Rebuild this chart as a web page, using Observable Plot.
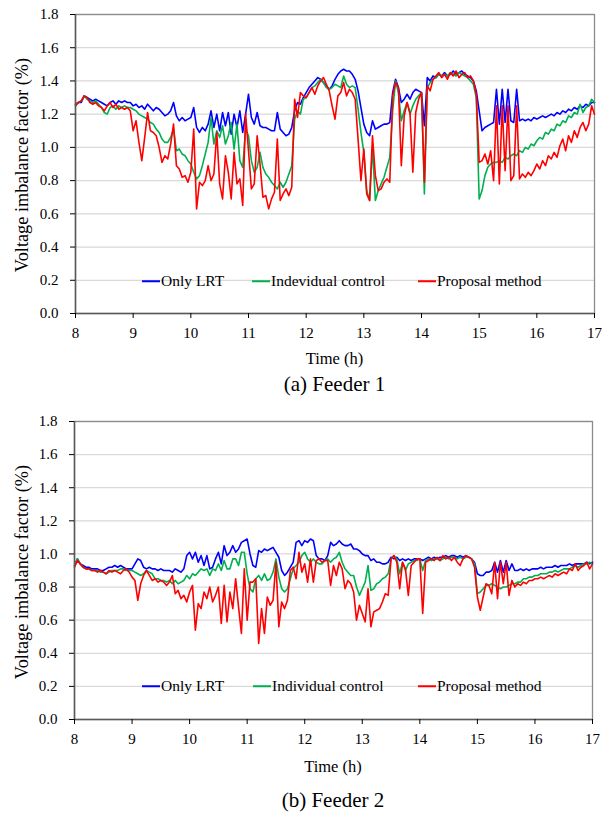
<!DOCTYPE html>
<html><head><meta charset="utf-8">
<script src="https://cdn.jsdelivr.net/npm/d3@7"></script>
<script src="https://cdn.jsdelivr.net/npm/@observablehq/plot@0.6"></script>
<style>
body{margin:0;background:#fff;}
#page{position:relative;width:613px;height:818px;overflow:hidden;font-family:"Liberation Serif","Times New Roman",serif;color:#000;background:#fff;}
.abs{position:absolute;white-space:nowrap;line-height:1;}
.c{transform:translate(-50%,-50%);}
.ylab{transform:translate(-50%,-50%) rotate(-90deg);}
.leg{position:absolute;display:flex;align-items:center;transform:translateY(-50%);font-size:15.5px;white-space:nowrap;line-height:1;}
.leg .sw{display:inline-block;width:18px;height:2px;margin-right:1px;}
.svgwrap{position:absolute;left:0;}
</style></head><body><div id="page"></div>
<script>
// ---------- data ----------
const hourTicks = [8, 9, 10, 11, 12, 13, 14, 15, 16, 17];
const yTicks = [0, 0.2, 0.4, 0.6, 0.8, 1.0, 1.2, 1.4, 1.6, 1.8];
const startHour = 8, stepHour = 0.05; // sampling of the curves (8:00 .. 17:00)
const seriesNamesA = ["Only LRT", "Indevidual control", "Proposal method"];
const seriesNamesB = ["Only LRT", "Individual control", "Proposal method"];
const seriesColors = ["#0000ff", "#00b050", "#ff0000"];
const xTitle = "Time (h)";
const yTitle = "Voltage imbalance factor (%)";
const captionA = "(a) Feeder 1";
const captionB = "(b) Feeder 2";

const feeder1LRT = [
1.26,1.27,1.27,1.31,1.30,1.29,1.28,1.29,1.28,1.27,1.26,1.25,1.27,1.28,1.26,1.28,1.27,1.28,1.27,1.27,
1.25,1.26,1.24,1.25,1.23,1.26,1.24,1.22,1.24,1.23,1.21,1.19,1.20,1.22,1.27,1.19,1.16,1.18,1.16,1.17,
1.18,1.24,1.12,1.09,1.12,1.10,1.14,1.22,1.12,1.20,1.10,1.21,1.13,1.21,1.08,1.20,1.12,1.22,1.09,1.20,
1.32,1.18,1.14,1.21,1.13,1.12,1.12,1.11,1.10,1.10,1.21,1.11,1.09,1.07,1.08,1.12,1.22,1.27,1.26,1.30,
1.33,1.36,1.38,1.40,1.42,1.41,1.39,1.37,1.35,1.37,1.41,1.44,1.46,1.47,1.46,1.46,1.44,1.41,1.34,1.24,
1.14,1.09,1.07,1.16,1.11,1.12,1.13,1.14,1.14,1.15,1.33,1.41,1.36,1.27,1.29,1.32,1.29,1.33,1.35,1.34,
1.33,1.13,1.42,1.40,1.43,1.42,1.44,1.43,1.45,1.43,1.44,1.46,1.44,1.45,1.46,1.44,1.43,1.42,1.40,1.34,
1.22,1.10,1.12,1.13,1.14,1.15,1.35,1.14,1.35,1.15,1.35,1.16,1.15,1.35,1.16,1.17,1.16,1.17,1.16,1.18,
1.17,1.18,1.19,1.18,1.19,1.20,1.19,1.21,1.20,1.22,1.21,1.23,1.22,1.24,1.23,1.25,1.24,1.26,1.25,1.27,
1.27];
const feeder1Individual = [
1.26,1.27,1.28,1.31,1.29,1.28,1.27,1.28,1.26,1.24,1.21,1.20,1.24,1.25,1.23,1.25,1.24,1.25,1.24,1.24,
1.23,1.22,1.20,1.19,1.18,1.17,1.15,1.14,1.11,1.09,1.05,1.03,1.03,1.06,1.11,0.98,0.99,0.96,0.95,0.92,
0.90,0.85,0.81,0.83,0.89,0.96,1.03,1.18,1.02,1.10,1.06,1.13,1.02,1.07,1.15,0.99,1.14,0.92,0.88,1.11,
1.07,0.92,0.85,0.88,0.97,0.88,0.84,0.82,0.79,0.77,0.75,0.79,0.76,0.79,0.84,0.89,1.17,1.22,1.20,1.29,
1.30,1.33,1.36,1.37,1.39,1.41,1.39,1.36,1.35,1.36,1.38,1.37,1.36,1.43,1.38,1.36,1.37,1.36,1.23,1.09,
0.97,0.74,0.68,1.00,0.68,0.74,0.78,0.82,0.88,0.94,1.22,1.40,1.33,1.16,1.22,1.27,1.20,1.25,1.29,1.31,
1.33,0.72,1.36,1.39,1.41,1.42,1.44,1.43,1.44,1.43,1.45,1.44,1.43,1.45,1.44,1.43,1.42,1.40,1.38,1.30,
0.69,0.74,0.83,0.88,0.90,0.91,0.91,0.92,0.91,0.94,0.93,0.95,0.96,0.95,0.98,0.97,1.00,0.99,1.02,1.01,
1.04,1.06,1.05,1.09,1.08,1.11,1.10,1.14,1.13,1.16,1.15,1.19,1.18,1.21,1.20,1.26,1.21,1.24,1.25,1.29,
1.27];
const feeder1Proposal = [
1.25,1.27,1.28,1.31,1.30,1.27,1.26,1.27,1.25,1.24,1.22,1.25,1.27,1.24,1.26,1.23,1.24,1.23,1.24,1.22,
1.10,1.16,1.03,0.92,1.06,1.21,1.10,1.09,1.07,1.00,0.91,0.95,0.93,1.02,1.14,0.89,0.87,0.82,0.83,0.79,
0.85,1.11,0.63,0.79,0.77,0.80,0.89,0.80,0.84,1.09,0.78,0.69,0.95,0.85,0.69,0.97,0.78,0.81,0.65,1.20,
0.98,0.75,0.78,1.07,0.90,0.70,0.71,0.63,0.69,0.73,1.05,0.68,0.72,0.75,0.71,0.76,1.29,1.18,1.33,1.31,
1.30,1.33,1.36,1.32,1.37,1.40,1.42,1.38,1.34,1.25,1.17,1.31,1.33,1.39,1.31,1.35,1.33,1.29,1.05,0.80,
0.99,0.72,0.68,1.07,0.83,0.74,0.75,0.79,0.81,0.79,1.31,1.39,1.36,0.89,1.19,1.27,1.21,0.85,1.21,1.29,
1.33,0.79,1.37,1.34,1.41,1.43,1.45,1.42,1.44,1.41,1.45,1.43,1.46,1.42,1.44,1.45,1.42,1.43,1.40,1.32,
0.91,0.92,0.96,0.90,0.98,0.80,1.25,0.78,1.25,0.86,1.25,0.80,0.83,1.25,0.81,0.84,0.82,0.85,0.83,0.86,
0.90,0.87,0.92,0.89,0.95,0.93,0.97,0.94,1.01,1.05,0.98,1.07,1.03,1.10,1.06,1.12,1.15,1.10,1.14,1.25,
1.20];

const feeder2LRT = [
0.93,0.97,0.94,0.93,0.92,0.92,0.91,0.91,0.91,0.90,0.90,0.91,0.92,0.92,0.93,0.92,0.93,0.92,0.91,0.91,
0.91,0.94,0.97,0.96,0.92,0.91,0.92,0.91,0.91,0.90,0.91,0.90,0.90,0.90,0.89,0.91,0.90,0.89,0.91,0.99,
1.01,0.97,1.01,0.95,0.99,0.93,0.99,0.91,0.92,0.97,1.01,0.94,1.05,0.99,1.01,1.05,1.01,1.03,1.07,1.08,
1.09,1.00,0.93,0.92,1.02,1.01,1.03,1.02,1.03,1.04,1.01,0.98,0.90,0.87,0.89,0.92,0.95,1.07,1.08,1.05,
1.08,1.07,1.09,1.08,0.99,0.97,0.97,0.96,0.99,1.07,1.05,1.06,1.08,1.06,1.05,1.05,1.06,1.03,1.03,1.02,
1.00,0.99,0.99,0.96,0.97,0.95,0.95,0.94,0.94,0.95,0.98,0.97,0.98,0.96,0.97,0.96,0.97,0.96,0.97,0.97,
0.97,0.96,0.97,0.98,0.97,0.98,0.97,0.98,0.98,0.99,0.98,0.99,0.99,0.98,0.99,0.98,0.99,0.98,0.97,0.95,
0.88,0.87,0.87,0.89,0.89,0.90,0.95,0.89,0.96,0.89,0.96,0.90,0.94,0.90,0.90,0.91,0.90,0.91,0.90,0.91,
0.91,0.91,0.92,0.91,0.92,0.92,0.92,0.93,0.92,0.93,0.93,0.93,0.94,0.93,0.94,0.94,0.94,0.94,0.95,0.94,
0.95];
const feeder2Individual = [
0.93,0.97,0.94,0.92,0.91,0.91,0.90,0.90,0.90,0.89,0.89,0.88,0.89,0.90,0.90,0.90,0.91,0.91,0.90,0.90,
0.90,0.89,0.88,0.87,0.88,0.90,0.89,0.88,0.85,0.85,0.84,0.84,0.83,0.84,0.82,0.84,0.82,0.83,0.84,0.87,
0.85,0.88,0.87,0.89,0.91,0.90,0.91,0.87,0.91,0.90,0.94,0.90,0.96,0.91,0.91,0.97,0.97,0.93,1.01,1.01,
0.88,0.79,0.77,0.85,0.87,0.84,0.88,0.84,0.85,0.89,0.97,0.86,0.79,0.77,0.79,0.85,0.91,0.93,0.95,0.99,
1.01,0.97,0.95,0.97,0.95,0.94,0.94,0.96,0.97,0.95,0.97,0.98,1.01,0.95,0.91,0.89,0.87,0.87,0.80,0.75,
0.79,0.83,0.93,0.78,0.79,0.82,0.83,0.85,0.86,0.88,0.97,0.99,0.97,0.88,0.95,0.90,0.94,0.95,0.96,0.96,
0.97,0.90,0.96,0.97,0.96,0.97,0.97,0.96,0.97,0.98,0.97,0.98,0.98,0.97,0.98,0.97,0.98,0.98,0.97,0.94,
0.76,0.77,0.79,0.81,0.81,0.82,0.81,0.80,0.79,0.80,0.80,0.81,0.82,0.82,0.83,0.83,0.85,0.85,0.86,0.86,
0.87,0.87,0.88,0.88,0.88,0.89,0.89,0.90,0.89,0.90,0.91,0.91,0.91,0.92,0.93,0.92,0.93,0.94,0.94,0.95,
0.94];
const feeder2Proposal = [
0.92,0.96,0.94,0.92,0.91,0.91,0.90,0.90,0.89,0.90,0.89,0.88,0.90,0.89,0.90,0.89,0.88,0.90,0.91,0.89,
0.86,0.84,0.72,0.82,0.87,0.90,0.87,0.84,0.85,0.83,0.84,0.83,0.81,0.83,0.87,0.76,0.78,0.73,0.75,0.71,
0.77,0.81,0.54,0.70,0.67,0.77,0.73,0.80,0.71,0.75,0.80,0.58,0.81,0.59,0.77,0.67,0.85,0.68,0.52,0.91,
0.60,0.83,0.83,0.85,0.46,0.67,0.52,0.74,0.69,0.72,0.95,0.56,0.71,0.67,0.72,0.90,0.92,0.85,1.01,0.89,
0.94,0.83,0.97,0.83,0.96,0.97,0.95,0.96,0.96,0.81,0.93,0.87,0.95,0.91,0.79,0.84,0.82,0.77,0.60,0.69,
0.64,0.59,0.79,0.56,0.65,0.66,0.67,0.71,0.76,0.75,0.97,0.99,0.95,0.79,0.95,0.91,0.75,0.93,0.95,0.97,
0.97,0.64,0.95,0.96,0.97,0.96,0.98,0.96,0.99,0.97,0.98,0.96,0.98,0.95,0.93,0.97,0.99,0.98,0.97,0.92,
0.74,0.66,0.74,0.82,0.81,0.76,0.95,0.73,0.95,0.82,0.95,0.75,0.84,0.80,0.82,0.81,0.83,0.82,0.84,0.84,
0.85,0.85,0.86,0.85,0.86,0.87,0.86,0.88,0.87,0.88,0.89,0.88,0.91,0.90,0.94,0.90,0.92,0.93,0.95,0.91,
0.94];

// ---------- drawing ----------
const page = document.getElementById("page");

function toRows(values, name) {
  return values.map((v, i) => ({time: startHour + i * stepHour, value: v, series: name}));
}

function addText(text, x, y, size, cls) {
  const d = document.createElement("div");
  d.className = "abs " + (cls || "c");
  d.style.left = x + "px";
  d.style.top = y + "px";
  d.style.fontSize = size + "px";
  d.textContent = text;
  page.appendChild(d);
}

function addLegend(names, lefts, y) {
  names.forEach((n, i) => {
    const d = document.createElement("div");
    d.className = "leg";
    d.style.left = lefts[i] + "px";
    d.style.top = y + "px";
    const sw = document.createElement("span");
    sw.className = "sw";
    sw.style.background = seriesColors[i];
    const t = document.createElement("span");
    t.textContent = n;
    d.appendChild(sw);
    d.appendChild(t);
    page.appendChild(d);
  });
}

function panel(cfg) {
  const rows = [
    ...toRows(cfg.lrt, cfg.names[0]),
    ...toRows(cfg.ind, cfg.names[1]),
    ...toRows(cfg.prop, cfg.names[2])
  ];
  const svg = Plot.plot({
    width: 613,
    height: cfg.height,
    marginTop: cfg.marginTop,
    marginBottom: cfg.marginBottom,
    marginLeft: cfg.marginLeft,
    marginRight: cfg.marginRight,
    style: {fontFamily: "'Liberation Serif', 'Times New Roman', serif", fontSize: "15px", color: "#000", background: "transparent", overflow: "visible"},
    x: {domain: [hourTicks[0], hourTicks[hourTicks.length - 1]]},
    y: {domain: [yTicks[0], yTicks[yTicks.length - 1]]},
    color: {domain: cfg.names, range: seriesColors},
    marks: [
      Plot.ruleY(yTicks.slice(1), {stroke: "#d9d9d9", strokeWidth: 1.3}),
      Plot.frame({stroke: "#8c8c8c", strokeWidth: 1.3}),
      Plot.line(rows, {x: "time", y: "value", z: "series", stroke: "series", strokeWidth: 1.6}),
      Plot.ruleX([hourTicks[0]], {stroke: "#595959", strokeWidth: 1.5}),
      Plot.ruleY([yTicks[0]], {stroke: "#595959", strokeWidth: 1.5}),
      Plot.axisX(hourTicks, {tickSize: 5, tickPadding: 9, label: null, tickFormat: d => String(d)}),
      Plot.axisY(yTicks, {tickSize: 5, tickPadding: 12, label: null, tickFormat: d3.format(".1f")})
    ]
  });
  const wrap = document.createElement("div");
  wrap.className = "svgwrap";
  wrap.style.top = cfg.top + "px";
  wrap.appendChild(svg);
  page.appendChild(wrap);

  const plotCenterX = cfg.marginLeft + (613 - cfg.marginLeft - cfg.marginRight) / 2;
  const plotTop = cfg.top + cfg.marginTop;
  const plotBottom = cfg.top + cfg.height - cfg.marginBottom;
  addText(yTitle, 22, (plotTop + plotBottom) / 2 + 1.5, 18.3, "ylab");
  addText(xTitle, plotCenterX, plotBottom + cfg.xTitleOffset, 16.5);
  addText(cfg.caption, plotCenterX, plotBottom + cfg.captionOffset, 21);
  addLegend(cfg.names, cfg.legendLefts, cfg.legendY);
}

panel({
  lrt: feeder1LRT, ind: feeder1Individual, prop: feeder1Proposal, names: seriesNamesA,
  caption: captionA, top: 0, height: 350, marginTop: 14, marginBottom: 37, marginLeft: 75, marginRight: 19,
  legendLefts: [142, 252, 418], legendY: 281, xTitleOffset: 46, captionOffset: 71
});
panel({
  lrt: feeder2LRT, ind: feeder2Individual, prop: feeder2Proposal, names: seriesNamesB,
  caption: captionB, top: 400, height: 355, marginTop: 21, marginBottom: 36, marginLeft: 74, marginRight: 21,
  legendLefts: [142, 253, 418], legendY: 686, xTitleOffset: 48, captionOffset: 81
});
</script></body></html>
